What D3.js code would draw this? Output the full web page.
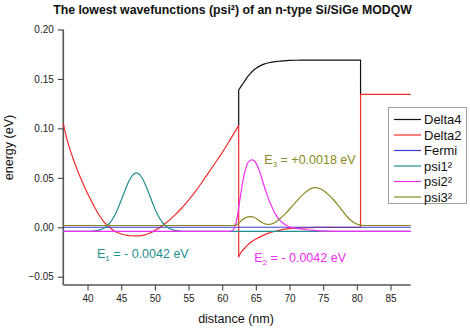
<!DOCTYPE html>
<html>
<head>
<meta charset="utf-8">
<script src="https://cdn.jsdelivr.net/npm/d3@7"></script>
<style>
  body { margin: 0; background: #fff; }
  text { font-family: "Liberation Sans", Arial, sans-serif; }
</style>
</head>
<body>
<svg id="chart" width="470" height="330"></svg>
<script>
// ---- data: distance (nm) vs energy (eV) ----
// Conduction band shared by Delta2 and Delta4 in the doped SiGe barrier (left)
const barrierLeft = [
  [36.4, 0.105], [36.9, 0.090], [37.4, 0.0785], [37.9, 0.0685], [38.4, 0.0595],
  [38.9, 0.051], [39.4, 0.043], [39.9, 0.0357], [40.4, 0.0288], [40.9, 0.0222],
  [41.4, 0.016], [41.9, 0.0104], [42.4, 0.0058], [42.9, 0.0022], [43.4, -0.0008],
  [43.9, -0.0035], [44.4, -0.0053], [44.9, -0.0066], [45.4, -0.0076], [45.9, -0.0082],
  [46.5, -0.0086], [47.2, -0.0088], [47.9, -0.0085], [48.5, -0.0077], [49.1, -0.0063],
  [49.7, -0.0044], [50.3, -0.0020], [50.9, 0.0005], [51.5, 0.0035], [52.2, 0.0075],
  [53.0, 0.0125], [54.0, 0.0195], [55.0, 0.0275], [56.0, 0.036], [57.0, 0.0455],
  [58.0, 0.0555], [59.0, 0.0655], [60.0, 0.0755], [61.0, 0.0865], [62.45, 0.1030]
];
// Strained Si well
const delta4Well = [
  [62.45, 0.1387], [62.8, 0.1425], [63.2, 0.1464], [63.7, 0.1515], [64.2, 0.1556],
  [64.7, 0.1590], [65.2, 0.1616], [65.7, 0.1635], [66.2, 0.1650], [66.9, 0.1664],
  [67.6, 0.1673], [68.4, 0.1679], [69.1, 0.1683], [70.0, 0.1687], [71.0, 0.1689],
  [73.0, 0.1690], [80.55, 0.1690]
];
const delta2Well = [
  [62.45, -0.0300], [62.7, -0.0265], [63.0, -0.0237], [63.44, -0.0205], [63.9, -0.0172],
  [64.4, -0.0145], [64.9, -0.0123], [65.4, -0.0105], [66.1, -0.0082], [66.9, -0.0060],
  [67.9, -0.0040], [68.9, -0.0024], [70.2, -0.0011], [71.5, -0.0006], [73.0, -0.0003],
  [75.0, -0.0001], [80.55, 0.0]
];
// Undoped SiGe barrier (right)
const barrierRight = [[80.55, 0.1343], [88.0, 0.1343]];

const fermiLevel = [[36.4, 0.0], [88.0, 0.0]];

const energyLevels = { E1: -0.0042, E2: -0.0042, E3: 0.0018 };

const psi1 = [
  [36.4, -0.0042], [40.25, -0.0041], [40.75, -0.0039], [41.25, -0.0035], [41.75, -0.0029],
  [42.25, -0.0016], [42.75, 0.0005], [43.25, 0.0038], [43.75, 0.0086], [44.25, 0.0150],
  [44.75, 0.0229], [45.25, 0.0317], [45.75, 0.0405], [46.25, 0.0480], [46.75, 0.0532],
  [47.25, 0.0550], [47.75, 0.0532], [48.25, 0.0480], [48.75, 0.0405], [49.25, 0.0317],
  [49.75, 0.0229], [50.25, 0.0150], [50.75, 0.0086], [51.25, 0.0038], [51.75, 0.0005],
  [52.25, -0.0016], [52.75, -0.0029], [53.25, -0.0035], [53.75, -0.0039], [54.25, -0.0041],
  [88.0, -0.0042]
];
const psi2 = [
  [36.4, -0.0042], [61.0, -0.0042], [61.5, -0.0035], [61.75, -0.0015], [62.0, 0.0030],
  [62.25, 0.0105], [62.45, 0.0200], [62.7, 0.0310], [62.95, 0.0420], [63.2, 0.0510],
  [63.45, 0.0580], [63.7, 0.0635], [63.95, 0.0665], [64.2, 0.0678], [64.45, 0.0682],
  [64.7, 0.0676], [64.95, 0.0657], [65.2, 0.0625], [65.45, 0.0585], [65.7, 0.0535],
  [65.95, 0.0480], [66.2, 0.0425], [66.45, 0.0372], [66.7, 0.0322], [66.95, 0.0275],
  [67.2, 0.0232], [67.45, 0.0194], [67.7, 0.0160], [67.95, 0.0130], [68.2, 0.0103],
  [68.45, 0.0080], [68.7, 0.0062], [68.95, 0.0046], [69.45, 0.0022], [70.0, 0.0002],
  [70.5, -0.0006], [71.0, -0.0012], [71.6, -0.0017], [72.5, -0.0025], [73.5, -0.0031],
  [74.5, -0.0036], [75.5, -0.0039], [77.0, -0.0041], [79.0, -0.0042], [88.0, -0.0042]
];
const psi3 = [
  [36.4, 0.0018], [61.5, 0.0018], [62.0, 0.0022], [62.5, 0.0045], [63.0, 0.0075],
  [63.5, 0.0097], [64.2, 0.0107], [64.8, 0.0098], [65.4, 0.0072], [66.0, 0.0045],
  [66.5, 0.0031], [67.0, 0.0028], [67.6, 0.0040], [68.2, 0.0065], [68.8, 0.0100],
  [69.5, 0.0145], [70.1, 0.0190], [70.8, 0.0245], [71.6, 0.0305], [72.4, 0.0355],
  [73.1, 0.0388], [73.8, 0.0400], [74.5, 0.0392], [75.2, 0.0365], [75.9, 0.0322],
  [76.6, 0.0273], [77.3, 0.0215], [78.0, 0.0155], [78.6, 0.0104], [79.2, 0.0065],
  [79.8, 0.0038], [80.5, 0.0022], [81.0, 0.0018], [88.0, 0.0018]
];

const seriesNames = ["Delta4", "Delta2", "Fermi", "psi1\u00B2", "psi2\u00B2", "psi3\u00B2"];
const seriesColors = ["#111111", "#f02c2c", "#3a3ad6", "#1f8f8f", "#f02cf0", "#8a8a20"];
// In the barriers Delta4 coincides with Delta2 (drawn on top), so only its
// well section and the band offsets at both interfaces are stroked.
const seriesData = [
  [barrierLeft[barrierLeft.length - 1]].concat(delta4Well, [barrierRight[0]]),
  barrierLeft.concat(delta2Well, barrierRight),
  fermiLevel, psi1, psi2, psi3
];

const xMajorTicks = [40, 45, 50, 55, 60, 65, 70, 75, 80, 85];
const xMinorTicks = [37.5, 42.5, 47.5, 52.5, 57.5, 62.5, 67.5, 72.5, 77.5, 82.5, 87.5];
const yMajorTicks = [-0.05, 0.00, 0.05, 0.10, 0.15, 0.20];
const yMinorTicks = [-0.025, 0.025, 0.075, 0.125, 0.175];

// ---- layout ----
const svg = d3.select("#chart");
const plot = { left: 63.3, right: 410.7, top: 29.5, bottom: 285 };

const x = d3.scaleLinear().domain([36.4, 88]).range([plot.left, plot.right]);
const y = d3.scaleLinear().domain([-0.0584, 0.20]).range([plot.bottom, plot.top]);

// ---- title ----
svg.append("text")
  .attr("x", 232.5).attr("y", 14)
  .attr("text-anchor", "middle")
  .attr("font-size", 12.3).attr("font-weight", "bold")
  .attr("fill", "#111")
  .text("The lowest wavefunctions (psi\u00B2) of an n-type Si/SiGe MODQW");

// ---- axes ----
function styleAxis(g) {
  g.select(".domain").attr("stroke", "#555").attr("stroke-width", 1.6);
  g.selectAll(".tick line").attr("stroke", "#444").attr("stroke-width", 1.1);
  g.selectAll(".tick text").attr("fill", "#222").attr("font-size", 10)
    .attr("font-family", "'Liberation Sans', Arial, sans-serif");
}

const xAxisG = svg.append("g").attr("transform", `translate(0,${plot.bottom})`);
xAxisG.call(d3.axisBottom(x).tickValues(xMinorTicks).tickSize(3).tickFormat(""));
xAxisG.call(d3.axisBottom(x).tickValues(xMajorTicks).tickSize(5.5).tickPadding(4)
  .tickFormat(d3.format("d")));
styleAxis(xAxisG);

const yAxisG = svg.append("g").attr("transform", `translate(${plot.left},0)`);
yAxisG.call(d3.axisLeft(y).tickValues(yMinorTicks).tickSize(3).tickFormat(""));
yAxisG.call(d3.axisLeft(y).tickValues(yMajorTicks).tickSize(5.5).tickPadding(4)
  .tickFormat(d3.format(".2f")));
styleAxis(yAxisG);
// keep the axis lines flush with the plot corners
xAxisG.selectAll(".domain").attr("d", `M${plot.left},0H${plot.right}`);
yAxisG.selectAll(".domain").attr("d", `M0,${plot.top}V${plot.bottom}`);

svg.append("text")
  .attr("x", 236).attr("y", 323)
  .attr("text-anchor", "middle").attr("font-size", 12.5).attr("fill", "#111")
  .text("distance (nm)");
svg.append("text")
  .attr("transform", "translate(13,147.5) rotate(-90)")
  .attr("text-anchor", "middle").attr("font-size", 12.5).attr("fill", "#111")
  .text("energy (eV)");

// ---- curves (vertical jumps where a distance repeats) ----
const line = d3.line().x(d => x(d[0])).y(d => y(d[1])).curve(d3.curveMonotoneX);

function jumpPath(points) {
  const runs = [];
  let run = [points[0]];
  for (let i = 1; i < points.length; i++) {
    if (points[i][0] === points[i - 1][0]) { runs.push(run); run = []; }
    run.push(points[i]);
  }
  runs.push(run);
  return runs
    .map(r => (r.length > 1 ? line(r) : `M${x(r[0][0])},${y(r[0][1])}`))
    .map((p, i) => (i ? p.replace(/^M/, "L") : p))
    .join("");
}

const curves = svg.append("g").attr("fill", "none").attr("stroke-width", 1.2);
seriesData.forEach((pts, i) => {
  curves.append("path")
    .attr("d", jumpPath(pts))
    .attr("stroke", seriesColors[i])
    .attr("stroke-linejoin", "round");
});

// ---- energy labels ----
function energyLabel(px, py, sub, value, color) {
  const t = svg.append("text").attr("x", px).attr("y", py)
    .attr("font-size", 12.5).attr("fill", color);
  t.append("tspan").text("E");
  t.append("tspan").attr("font-size", 8).attr("dy", 3).text(sub);
  t.append("tspan").attr("dy", -3).text(value);
}
energyLabel(97, 258.3, "1", " = - " + Math.abs(energyLevels.E1).toFixed(4) + " eV", seriesColors[3]);
energyLabel(254.3, 261.7, "2", " = - " + Math.abs(energyLevels.E2).toFixed(4) + " eV", seriesColors[4]);
energyLabel(264.3, 164, "3", " = +" + energyLevels.E3.toFixed(4) + " eV", seriesColors[5]);

// ---- legend ----
const legend = svg.append("g");
legend.append("rect")
  .attr("x", 388.5).attr("y", 107.5).attr("width", 78).attr("height", 96)
  .attr("fill", "#fff").attr("stroke", "#a0a0a0").attr("stroke-width", 1);
seriesNames.forEach((name, i) => {
  const ry = 119.5 + i * 15.5;
  legend.append("line")
    .attr("x1", 394).attr("x2", 421).attr("y1", ry).attr("y2", ry)
    .attr("stroke", seriesColors[i]).attr("stroke-width", 1.2);
  legend.append("text")
    .attr("x", 424).attr("y", ry + 4.5)
    .attr("font-size", 13).attr("fill", "#111")
    .text(name);
});
</script>
</body>
</html>
